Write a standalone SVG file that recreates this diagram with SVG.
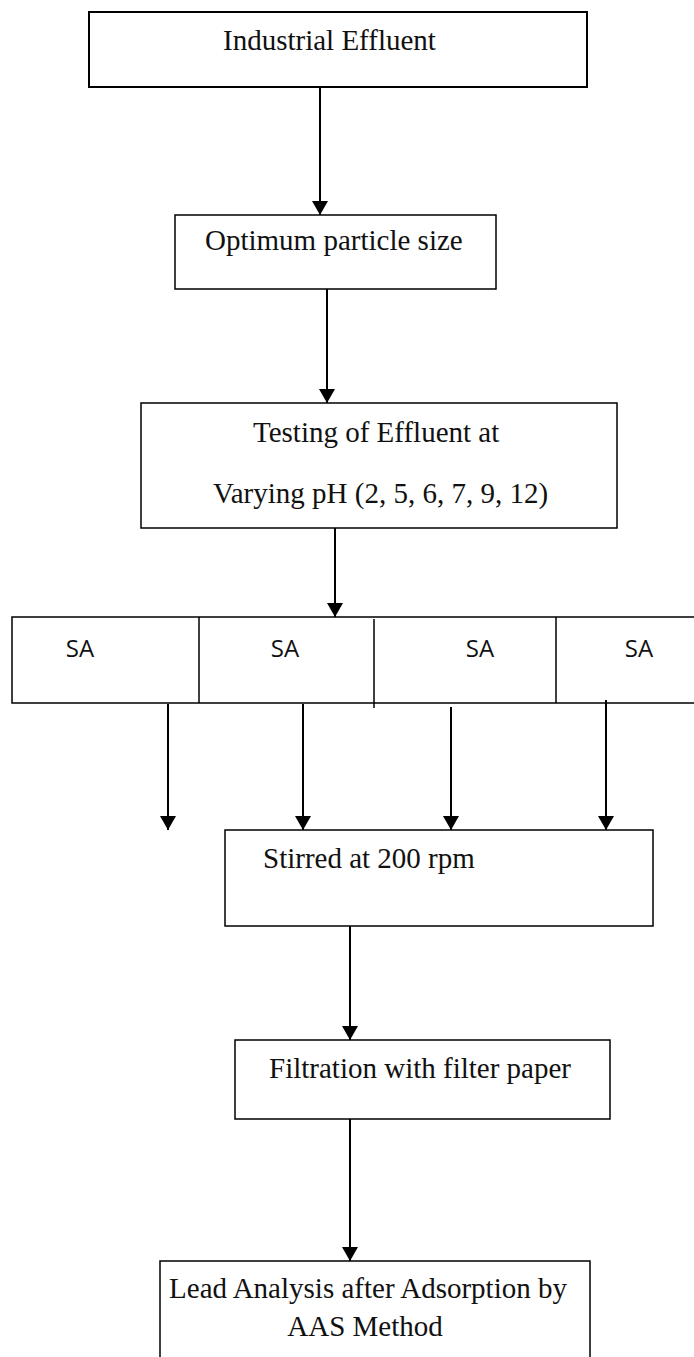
<svg xmlns="http://www.w3.org/2000/svg" width="694" height="1357" viewBox="0 0 694 1357">
  <style>
    .box { fill: #ffffff; stroke: #000000; stroke-width: 1.5; }
    .box.heavy { stroke-width: 2; }
    .t { font-family: "Liberation Serif", "Times New Roman", serif; font-size: 29px; fill: #111111; }
    .sa { font-family: "Open Sans", "Liberation Sans", sans-serif; font-size: 24px; fill: #111111; }
    .wire { stroke: #000000; stroke-width: 2; fill: none; }
    .div { stroke: #000000; stroke-width: 1.5; }
  </style>
  <defs>
    <!-- solid triangular arrowhead, tip at the end of the line -->
    <marker id="head" viewBox="0 0 14 16" refX="14" refY="8" markerWidth="14" markerHeight="16" markerUnits="userSpaceOnUse" orient="auto">
      <path d="M0,0 L14,8 L0,16 Z" fill="#000000"/>
    </marker>
  </defs>
  <rect width="694" height="1357" fill="#ffffff"/>

  <g id="industrial-effluent">
    <rect class="box heavy" x="89" y="12" width="498" height="75"/>
    <text class="t" x="223" y="50">Industrial Effluent</text>
  </g>

  <g id="optimum-particle-size">
    <rect class="box" x="175" y="215" width="321" height="74"/>
    <text class="t" x="205" y="250">Optimum particle size</text>
  </g>

  <g id="testing-ph">
    <rect class="box" x="141" y="403" width="476" height="125"/>
    <text class="t" x="253" y="442">Testing of Effluent at</text>
    <text class="t" x="213" y="503">Varying pH (2, 5, 6, 7, 9, 12)</text>
  </g>

  <g id="sa-row">
    <!-- row of four sample cells; the last cell runs off the right edge -->
    <rect class="box" x="12" y="617" width="700" height="86"/>
    <line class="div" x1="199" y1="617" x2="199" y2="703"/>
    <line class="div" x1="374" y1="619" x2="374" y2="708"/>
    <line class="div" x1="556" y1="617" x2="556" y2="703"/>
    <text class="sa" x="80" y="657" text-anchor="middle">SA</text>
    <text class="sa" x="285" y="657" text-anchor="middle">SA</text>
    <text class="sa" x="480" y="657" text-anchor="middle">SA</text>
    <text class="sa" x="639" y="657" text-anchor="middle">SA</text>
  </g>

  <g id="stirred">
    <rect class="box" x="225" y="830" width="428" height="96"/>
    <text class="t" x="263" y="868">Stirred at 200 rpm</text>
  </g>

  <g id="filtration">
    <rect class="box" x="235" y="1040" width="375" height="79"/>
    <text class="t" x="269" y="1078">Filtration with filter paper</text>
  </g>

  <g id="lead-analysis">
    <!-- bottom edge sits just below the page -->
    <rect class="box" x="160" y="1261" width="430" height="100"/>
    <text class="t" x="368" y="1298" text-anchor="middle">Lead Analysis after Adsorption by</text>
    <text class="t" x="365" y="1336" text-anchor="middle">AAS Method</text>
  </g>

  <g id="connectors">
    <line class="wire" x1="320" y1="87" x2="320" y2="215" marker-end="url(#head)"/>
    <line class="wire" x1="327" y1="289" x2="327" y2="403" marker-end="url(#head)"/>
    <line class="wire" x1="335" y1="528" x2="335" y2="617" marker-end="url(#head)"/>
    <line class="wire" x1="168" y1="704" x2="168" y2="830" marker-end="url(#head)"/>
    <line class="wire" x1="303" y1="704" x2="303" y2="830" marker-end="url(#head)"/>
    <line class="wire" x1="451" y1="707" x2="451" y2="830" marker-end="url(#head)"/>
    <line class="wire" x1="606" y1="700" x2="606" y2="830" marker-end="url(#head)"/>
    <line class="wire" x1="350" y1="926" x2="350" y2="1040" marker-end="url(#head)"/>
    <line class="wire" x1="350" y1="1119" x2="350" y2="1261" marker-end="url(#head)"/>
  </g>
</svg>
